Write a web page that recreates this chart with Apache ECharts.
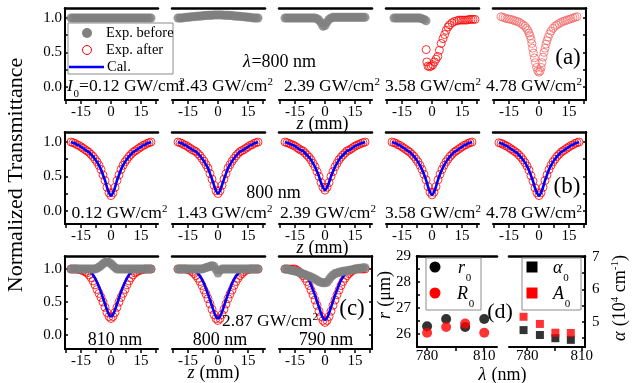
<!DOCTYPE html>
<html><head><meta charset="utf-8">
<script src="https://cdn.jsdelivr.net/npm/echarts@6/dist/echarts.min.js"></script>
<style>html,body{margin:0;padding:0;background:#fff}#c{width:634px;height:383px}</style>
</head><body><div id="c"></div>
<script>
// ---------------- data ----------------
const zGrid = [-20,-19,-18,-17,-16,-15,-14,-13,-12,-11,-10,-9,-8,-7,-6,-5,-4,-3,-2,-1,0,1,2,3,4,5,6,7,8,9,10,11,12,13,14,15,16,17,18,19,20];
// tick labels
const zLabels = [-15, 0, 15];
const zTicks = [-22.5, -15, -7.5, 0, 7.5, 15, 22.5];
const tLabels = [0, 0.5, 1.0];
const tTicks = [0, 0.25, 0.5, 0.75, 1.0];
const lamLabels = [780, 810];
const lamTicks = [780, 795, 810];
const rLabels = [26, 27, 28, 29];
const rTicks = [26, 26.5, 27, 27.5, 28, 28.5, 29];
const aLabels = [5, 6, 7];
const aTicks = [4.5, 5, 5.5, 6, 6.5, 7];

// (a) lambda = 800 nm, before / after
const tA1 = [1.0,1.0,1.0,1.0,1.0,1.0,1.0,1.0,1.0,1.0, 1.0,1.0,1.0,1.0,1.0,1.0,1.0,1.0,1.0,1.0, 1.0, 1.0,1.0,1.0,1.0,1.0,1.0,1.0,1.0,1.0,1.0, 1.0,1.0,1.0,1.0,1.0,1.0,1.0,1.0,1.0,1.0];
const tA2 = [1.0,1.0,1.0,1.005,1.01,1.01,1.015,1.02,1.02,1.025, 1.025,1.03,1.03,1.035,1.035,1.04,1.04,1.04,1.045,1.045, 1.045, 1.045,1.045,1.04,1.04,1.04,1.035,1.035,1.03,1.03,1.025, 1.025,1.02,1.02,1.015,1.01,1.01,1.005,1.0,1.0,1.0];
const tA3 = [1.0,1.0,1.0,1.0,1.0,1.0,1.0,1.0,1.0,1.0, 1.0,1.0,1.0,1.0,1.0,1.0,0.99,0.97,0.93,0.88, 0.89, 0.94,0.98,1.0,1.01,1.01,1.01,1.01,1.01,1.01,1.01, 1.01,1.01,1.01,1.01,1.01,1.01,1.01,1.01,1.01,1.01];
const zA4g = [-19,-18,-17,-16,-15,-14,-13,-12,-11,-10,-9,-8,-7,-6,-5,-4,-3];
const tA4g = [1.0,1.0,1.0,1.0,1.0,1.0,1.0,1.0,1.0,1.0,1.0,1.0,1.0,1.0,0.99,0.98,0.96];
const zA4r = [-2.9,-2.6,-2.0,-1.2,-0.4,0.4,1.2,2.0,2.9,3.7,4.6,5.5,6.3,7.1,8.0,8.8,10.0,11.2,12.5,13.5,14.5,15.5,16.5,17.5,18.5,19.5,20.5,21.5];
const tA4r = [0.54,0.36,0.30,0.29,0.30,0.32,0.36,0.40,0.44,0.53,0.63,0.70,0.76,0.82,0.87,0.90,0.93,0.95,0.96,0.97,0.97,0.97,0.97,0.97,0.98,0.98,0.98,0.98];
const zA5 = [-19,-18,-17,-16,-15,-14,-13,-12,-11,-10,-9,-8,-7,-6.3,-5.6,-5,-4.5,-4,-3.6,-3.2,-2.8,-2.3,-1.8,-1.2,-0.6,0,0.6,1.1,1.5,2,2.5,3,3.5,4,4.6,5.3,6,7,8,9,10,11,12,13,14,15,16,17,18,19];
const tA5 = [1.02,1.01,1.0,0.99,0.985,0.98,0.97,0.96,0.95,0.94,0.92,0.9,0.88,0.85,0.82,0.78,0.74,0.69,0.63,0.56,0.49,0.42,0.35,0.28,0.23,0.21,0.23,0.28,0.35,0.43,0.5,0.56,0.62,0.67,0.72,0.77,0.81,0.85,0.88,0.9,0.92,0.935,0.95,0.96,0.97,0.98,0.99,1.0,1.01,1.02];

// (b) lambda = 800 nm, Exp. after & Cal.
const tB1 = [1.00,0.99,0.98,0.96,0.95,0.93,0.91,0.89,0.87,0.85, 0.82,0.79,0.75,0.71,0.66,0.60,0.52,0.44,0.34,0.26, 0.22, 0.26,0.34,0.44,0.52,0.60,0.66,0.71,0.75,0.79,0.82, 0.85,0.87,0.89,0.91,0.93,0.95,0.96,0.98,0.99,1.00];
const tB2 = [1.00,0.99,0.98,0.96,0.95,0.93,0.91,0.89,0.875,0.86, 0.83,0.80,0.76,0.72,0.67,0.62,0.54,0.46,0.37,0.29, 0.25, 0.29,0.37,0.46,0.54,0.62,0.67,0.72,0.76,0.80,0.83, 0.86,0.875,0.89,0.91,0.93,0.95,0.96,0.98,0.99,1.00];
const tB3 = [1.00,0.99,0.98,0.965,0.955,0.94,0.92,0.90,0.88,0.87, 0.84,0.81,0.78,0.74,0.69,0.64,0.57,0.50,0.41,0.34, 0.30, 0.34,0.41,0.50,0.57,0.64,0.69,0.74,0.78,0.81,0.84, 0.87,0.88,0.90,0.92,0.94,0.955,0.965,0.98,0.99,1.00];
const tB4 = [1.00,0.99,0.98,0.96,0.95,0.93,0.91,0.89,0.87,0.85, 0.82,0.79,0.75,0.71,0.66,0.60,0.53,0.45,0.35,0.27, 0.23, 0.27,0.35,0.45,0.53,0.60,0.66,0.71,0.75,0.79,0.82, 0.85,0.87,0.89,0.91,0.93,0.95,0.96,0.98,0.99,1.00];
const tB5 = [0.99,0.98,0.97,0.95,0.94,0.92,0.90,0.88,0.86,0.84, 0.81,0.78,0.74,0.70,0.65,0.59,0.51,0.43,0.33,0.26, 0.22, 0.26,0.34,0.44,0.52,0.60,0.66,0.71,0.75,0.79,0.82, 0.85,0.87,0.89,0.91,0.93,0.95,0.96,0.98,0.99,1.00];

// (c) 2.87 GW/cm2 at 810 / 800 / 790 nm
const tC1 = [1.0,1.0,1.0,1.0,0.99,0.985,0.975,0.96,0.94,0.91, 0.87,0.82,0.76,0.69,0.63,0.57,0.50,0.42,0.34,0.28, 0.25, 0.28,0.34,0.42,0.50,0.57,0.63,0.69,0.76,0.82,0.87, 0.91,0.94,0.96,0.975,0.985,0.99,1.0,1.0,1.0,1.0];
const cC1 = [1.0,1.0,1.0,1.0,1.0,1.0,1.0,0.99,0.985,0.97, 0.95,0.91,0.86,0.80,0.73,0.65,0.56,0.47,0.38,0.31, 0.28, 0.31,0.38,0.47,0.56,0.65,0.73,0.80,0.86,0.91,0.95, 0.97,0.985,0.99,1.0,1.0,1.0,1.0,1.0,1.0,1.0];
const gC1 = [1.0,1.0,1.0,1.0,1.0,1.0,1.0,1.0,1.0,1.0, 1.0,1.0,1.0,1.01,1.03,1.05,1.08,1.10,1.11,1.10, 1.08, 1.05,1.02,1.0,1.0,1.0,1.0,1.0,1.0,1.0,1.0, 1.0,1.0,1.0,1.0,1.0,1.0,1.0,1.0,1.0,1.0];
const tC2 = [1.0,1.0,1.0,1.0,1.0,0.99,0.98,0.96,0.93,0.90, 0.86,0.81,0.75,0.68,0.62,0.55,0.47,0.39,0.31,0.25, 0.22, 0.25,0.31,0.39,0.47,0.55,0.62,0.68,0.75,0.81,0.86, 0.90,0.93,0.96,0.98,0.99,1.0,1.0,1.0,1.0,1.0];
const cC2 = [1.0,1.0,1.0,1.0,1.0,1.0,1.0,0.99,0.98,0.96, 0.93,0.89,0.84,0.78,0.70,0.62,0.53,0.44,0.35,0.28, 0.25, 0.28,0.35,0.44,0.53,0.62,0.70,0.78,0.84,0.89,0.93, 0.96,0.98,0.99,1.0,1.0,1.0,1.0,1.0,1.0,1.0];
const gC2 = [1.0,1.0,1.0,1.0,1.0,1.0,1.0,1.0,1.0,1.0, 1.0,1.0,1.0,1.01,1.02,1.03,1.04,1.05,1.04,0.99, 0.94, 0.98,1.0,1.0,1.0,1.0,1.0,1.0,1.0,1.0,1.0, 1.0,1.0,1.0,1.0,1.0,1.0,1.0,1.0,1.0,1.0];
const tC3 = [1.0,1.0,1.0,1.0,1.0,1.0,0.98,0.96,0.93,0.90, 0.86,0.81,0.75,0.68,0.61,0.53,0.45,0.36,0.28,0.22, 0.19, 0.22,0.28,0.36,0.45,0.53,0.61,0.68,0.75,0.81,0.86, 0.90,0.93,0.96,0.98,1.0,1.0,1.0,1.0,1.0,1.0];
const cC3 = [1.0,1.0,1.0,1.0,1.0,1.0,1.0,0.99,0.97,0.95, 0.92,0.88,0.83,0.76,0.68,0.60,0.51,0.42,0.33,0.26, 0.23, 0.26,0.33,0.42,0.51,0.60,0.68,0.76,0.83,0.88,0.92, 0.95,0.97,0.99,1.0,1.0,1.0,1.0,1.0,1.0,1.0];
const gC3 = [1.0,1.0,0.99,0.98,0.975,0.97,0.96,0.95,0.94,0.925, 0.915,0.90,0.89,0.88,0.865,0.85,0.83,0.81,0.80,0.79, 0.79, 0.80,0.84,0.88,0.91,0.93,0.94,0.95,0.96,0.965,0.97, 0.975,0.98,0.985,0.99,1.0,1.0,1.01,1.01,1.02,1.02];

// (d) fitted parameters
const lamR = [780, 790, 800, 810];
const r0 = [26.3, 26.58, 26.27, 26.58];
const R0 = [26.05, 26.27, 26.4, 26.05];
const lamA = [778, 787, 795.5, 804];
const alpha0 = [4.75, 4.6, 4.5, 4.45];
const A0 = [5.16, 4.94, 4.67, 4.66];

// ---------------- layout / build ----------------
const FONT = '"Liberation Serif","Times New Roman",serif';
const zip = (a, b) => a.map((v, i) => [v, b[i]]);
const grids = [], xAxis = [], yAxis = [], series = [];

function addGrid(o) {
  const gi = grids.length;
  grids.push({left: o.left, top: o.top, width: o.width, height: o.height});
  const xi = xAxis.length;
  xAxis.push({
    gridIndex: gi, type: 'value', position: 'bottom', min: o.xmin, max: o.xmax,
    axisLine: {show: true, onZero: false, lineStyle: {color: '#000', width: 2}},
    axisTick: {show: true, inside: false, length: 4, customValues: o.xTicks, lineStyle: {color: '#000', width: 1.5}},
    axisLabel: {show: true, customValues: o.xLabels, margin: o.xMargin, color: '#000', fontFamily: FONT, fontSize: 15},
    splitLine: {show: false}
  });
  xAxis.push({
    gridIndex: gi, type: 'value', position: 'top', min: o.xmin, max: o.xmax,
    axisLine: {show: true, onZero: false, lineStyle: {color: '#000', width: 2.5}},
    axisTick: {show: false}, axisLabel: {show: false}, splitLine: {show: false}
  });
  const yi = yAxis.length;
  yAxis.push({
    gridIndex: gi, type: 'value', position: 'left', min: o.ymin, max: o.ymax,
    axisLine: {show: !!o.showL, onZero: false, lineStyle: {color: '#000', width: 2}},
    axisTick: {show: !!o.showL, inside: true, length: 3, customValues: o.yTicks, lineStyle: {color: '#000', width: 1.5}},
    axisLabel: {show: !!o.showL, customValues: o.yLabels, formatter: o.yFmt, margin: o.yMargin, color: '#000', fontFamily: FONT, fontSize: 15},
    splitLine: {show: false}
  });
  let yr = null;
  if (o.showR) {
    yr = yAxis.length;
    yAxis.push({
      gridIndex: gi, type: 'value', position: 'right', min: o.ymin, max: o.ymax,
      axisLine: {show: true, onZero: false, lineStyle: {color: '#000', width: 2}},
      axisTick: {show: true, inside: true, length: 3, customValues: o.rTicks || o.yTicks, lineStyle: {color: '#000', width: 1.5}},
      axisLabel: {show: !!o.rLabels, customValues: o.rLabels, formatter: o.yFmt, margin: 7, color: '#000', fontFamily: FONT, fontSize: 15},
      splitLine: {show: false}
    });
  }
  return {x: xi, y: yi, yr: yr};
}

const lefts = [65, 172, 279, 386, 493];
const rows = [
  {top: 8, h: 92, ymin: -0.194, ymax: 1.146, n: 5},
  {top: 132, h: 92, ymin: -0.194, ymax: 1.146, n: 5},
  {top: 256, h: 93, ymin: -0.212, ymax: 1.197, n: 3}
];
const ax = rows.map(r => {
  const arr = [];
  for (let c = 0; c < r.n; c++) {
    arr.push(addGrid({
      left: lefts[c], top: r.top, width: 93, height: r.h,
      xmin: -23, xmax: 23.5, ymin: r.ymin, ymax: r.ymax,
      xTicks: zTicks, xLabels: zLabels, xMargin: 5,
      yTicks: tTicks, yLabels: tLabels, yFmt: v => v.toFixed(1), yMargin: 3,
      showL: c === 0, showR: c === r.n - 1
    }));
  }
  return arr;
});
const axD1 = addGrid({left: 417, top: 256, width: 80, height: 91, xmin: 774.7, xmax: 816.7, ymin: 25.5, ymax: 29,
  xTicks: lamTicks, xLabels: lamLabels, xMargin: 2, yTicks: rTicks, yLabels: rLabels, yFmt: v => String(v), yMargin: 6, showL: true});
const axD2 = addGrid({left: 509, top: 256, width: 76, height: 91, xmin: 770, xmax: 811.8, ymin: 4.23, ymax: 7.03,
  xTicks: lamTicks, xLabels: lamLabels, xMargin: 2, yTicks: aTicks, yFmt: v => String(v), showL: false,
  showR: true, rTicks: aTicks, rLabels: aLabels});

function gray(a, zs, ts) {
  series.push({type: 'scatter', name: 'Exp. before', xAxisIndex: a.x, yAxisIndex: a.y, data: zip(zs, ts),
    symbol: 'circle', symbolSize: 9, itemStyle: {color: '#808080'}, z: 4, silent: true});
}
function red(a, zs, ts, col) {
  series.push({type: 'scatter', name: 'Exp. after', xAxisIndex: a.x, yAxisIndex: a.y, data: zip(zs, ts),
    symbol: 'circle', symbolSize: 8, itemStyle: {color: 'rgba(255,255,255,0)', borderColor: col || '#ff0000', borderWidth: 1}, z: 2, silent: true});
}
function blue(a, zs, ts) {
  series.push({type: 'line', name: 'Cal.', xAxisIndex: a.x, yAxisIndex: a.y, data: zip(zs, ts),
    showSymbol: false, symbol: 'none', smooth: 0.3, lineStyle: {color: '#0000ff', width: 2.6}, z: 3, silent: true});
}
// row (a)
gray(ax[0][0], zGrid, tA1);
gray(ax[0][1], zGrid, tA2);
gray(ax[0][2], zGrid, tA3);
gray(ax[0][3], zA4g, tA4g);
red(ax[0][3], zA4r, tA4r);
red(ax[0][4], zA5, tA5, '#f36a6a');
// row (b)
[tB1, tB2, tB3, tB4, tB5].forEach((t, i) => { red(ax[1][i], zGrid, t); blue(ax[1][i], zGrid, t); });
// row (c)
[[tC1, cC1, gC1], [tC2, cC2, gC2], [tC3, cC3, gC3]].forEach((s, i) => {
  red(ax[2][i], zGrid, s[0]); blue(ax[2][i], zGrid, s[1]); gray(ax[2][i], zGrid, s[2]);
});
// (d)
series.push({type: 'scatter', name: 'r0', xAxisIndex: axD1.x, yAxisIndex: axD1.y, data: zip(lamR, r0), symbol: 'circle', symbolSize: 10, itemStyle: {color: '#000'}, z: 3});
series.push({type: 'scatter', name: 'R0', xAxisIndex: axD1.x, yAxisIndex: axD1.y, data: zip(lamR, R0), symbol: 'circle', symbolSize: 10, itemStyle: {color: '#ff0000'}, z: 4});
series.push({type: 'scatter', name: 'alpha0', xAxisIndex: axD2.x, yAxisIndex: axD2.yr, data: zip(lamA, alpha0), symbol: 'rect', symbolSize: 8, itemStyle: {color: '#000'}, z: 3});
series.push({type: 'scatter', name: 'A0', xAxisIndex: axD2.x, yAxisIndex: axD2.yr, data: zip(lamA, A0), symbol: 'rect', symbolSize: 8, itemStyle: {color: '#ff0000'}, z: 4});

// ---------------- annotations (text with manual sub/superscripts) ----------------
const ctx = document.createElement('canvas').getContext('2d');
function measure(t, fs, it) {
  ctx.font = (it ? 'italic ' : '') + fs + 'px ' + FONT;
  return ctx.measureText(t).width;
}
const G = [];
// toks: [kind, text], kind n=normal, i=italic, s=superscript, b=subscript
function rt(x, y, toks, size, align, rot, subOff, supOff) {
  const sm = Math.round(size * 0.62);
  let cx = 0;
  const kids = [];
  toks.forEach(([k, t]) => {
    const small = (k === 's' || k === 'b');
    const fs = small ? sm : size;
    const it = k === 'i';
    const w = measure(t, fs, it);
    const dy = k === 's' ? (supOff !== undefined ? supOff : -0.25 * size) : k === 'b' ? (subOff !== undefined ? subOff : 0.45 * size) : 0;
    kids.push({type: 'text', x: cx, y: dy, z: 100, silent: true,
      style: {text: t, fontSize: fs, fontFamily: FONT, fontStyle: it ? 'italic' : 'normal', fill: '#000', align: 'left', verticalAlign: 'middle'}});
    cx += w + (it ? size * 0.04 : 0);
  });
  const off = align === 'left' ? 0 : align === 'right' ? -cx : -cx / 2;
  kids.forEach(k => { k.x += off; });
  G.push({type: 'group', x: x, y: y, rotation: rot || 0, z: 100, children: kids});
}
const GW = v => [['n', v + ' GW/cm'], ['s', '2']];
const FS = 17.5;
// row (a)
rt(67, 86, [['i', 'I'], ['b', '0'], ['n', '=0.12 GW/cm'], ['s', '2']], FS, 'left');
rt(225, 86, GW('1.43'), FS);
rt(332, 86, GW('2.39'), FS);
rt(433, 86, GW('3.58'), FS);
rt(534, 86, GW('4.78'), FS);
rt(279.5, 62, [['i', 'λ'], ['n', '=800 nm']], 18);
rt(568, 58, [['n', '(a)']], 23);
rt(322.5, 124, [['i', 'z'], ['n', ' (mm)']], 18);
// row (b)
rt(119.5, 213, GW('0.12'), FS);
rt(224.5, 213, GW('1.43'), FS);
rt(328, 213, GW('2.39'), FS);
rt(433, 213, GW('3.58'), FS);
rt(534, 213, GW('4.78'), FS);
rt(273.5, 193, [['n', '800 nm']], 18);
rt(567, 187, [['n', '(b)']], 23);
rt(322.5, 248, [['i', 'z'], ['n', ' (mm)']], 18);
// row (c)
rt(115, 340, [['n', '810 nm']], 18);
rt(220, 340, [['n', '800 nm']], 18);
rt(326, 340, [['n', '790 nm']], 18);
rt(270, 321, GW('2.87'), FS);
rt(352, 309, [['n', '(c)']], 23);
rt(213.5, 373, [['i', 'z'], ['n', ' (mm)']], 18);
// (d)
rt(500, 312, [['n', '(d)']], 22);
rt(502.5, 375, [['i', 'λ'], ['n', ' (nm)']], 18);
rt(385, 295, [['i', 'r'], ['n', ' (μm)']], 18, 'center', Math.PI / 2);
rt(620, 298, [['i', 'α'], ['n', ' (10'], ['s', '4'], ['n', ' cm'], ['s', '-1'], ['n', ')']], 18, 'center', Math.PI / 2);
// big y title
rt(16, 175, [['n', 'Normalized Transmittance']], 22, 'center', Math.PI / 2);

// legend (a)
G.push({type: 'rect', z: 90, silent: true, shape: {x: 68, y: 23, width: 105, height: 51}, style: {fill: '#fff', stroke: '#8c8c8c', lineWidth: 1}});
G.push({type: 'circle', z: 95, silent: true, shape: {cx: 87, cy: 33, r: 5}, style: {fill: '#808080'}});
G.push({type: 'circle', z: 95, silent: true, shape: {cx: 87, cy: 50, r: 4.5}, style: {fill: 'none', stroke: '#ff0000', lineWidth: 1}});
G.push({type: 'line', z: 95, silent: true, shape: {x1: 69, y1: 67, x2: 104, y2: 67}, style: {stroke: '#0000ff', lineWidth: 2.5}});
rt(106, 33, [['n', 'Exp. before']], 14.5, 'left');
rt(106, 50, [['n', 'Exp. after']], 14.5, 'left');
rt(107, 67, [['n', 'Cal.']], 14.5, 'left');
// legends (d)
G.push({type: 'rect', z: 90, silent: true, shape: {x: 426, y: 258, width: 55, height: 52}, style: {fill: '#fff', stroke: '#8c8c8c', lineWidth: 1}});
G.push({type: 'circle', z: 95, silent: true, shape: {cx: 435, cy: 267, r: 5.5}, style: {fill: '#000'}});
G.push({type: 'circle', z: 95, silent: true, shape: {cx: 435, cy: 293, r: 5.5}, style: {fill: '#ff0000'}});
rt(458, 268, [['i', 'r'], ['b', '0']], 18, 'left', 0, 10);
rt(457, 294, [['i', 'R'], ['b', '0']], 18, 'left', 0, 10);
G.push({type: 'rect', z: 90, silent: true, shape: {x: 522, y: 258, width: 59, height: 52}, style: {fill: '#fff', stroke: '#8c8c8c', lineWidth: 1}});
G.push({type: 'rect', z: 95, silent: true, shape: {x: 526.5, y: 261.5, width: 11, height: 11}, style: {fill: '#000'}});
G.push({type: 'rect', z: 95, silent: true, shape: {x: 526.5, y: 287.5, width: 11, height: 11}, style: {fill: '#ff0000'}});
rt(553, 268, [['i', 'α'], ['b', '0']], 18, 'left', 0, 10);
rt(553, 294, [['i', 'A'], ['b', '0']], 18, 'left', 0, 10);

const chart = echarts.init(document.getElementById('c'));
chart.setOption({
  animation: false,
  backgroundColor: '#fff',
  grid: grids, xAxis: xAxis, yAxis: yAxis, series: series,
  graphic: {elements: G}
});
</script></body></html>
